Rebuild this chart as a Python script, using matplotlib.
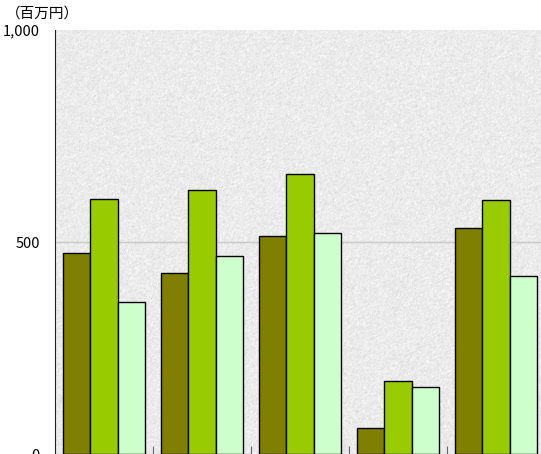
import numpy as np
import matplotlib.pyplot as plt

plt.rcParams['font.family'] = ['Noto Sans CJK JP', 'DejaVu Sans']

groups = ["A", "B", "C", "D", "E"]
series_1 = [473, 427, 514, 62, 534]
series_2 = [602, 623, 660, 171, 599]
series_3 = [359, 466, 521, 157, 420]
colors = ["#808000", "#99cc00", "#ccffcc"]

fig = plt.figure(figsize=(5.41, 4.54), dpi=100)
ax = fig.add_axes([55 / 541, 0.0, 490 / 541, 1 - 30 / 454])

# fine grainy grey backdrop for the plot area
rng = np.random.default_rng(7)
grain = rng.normal(0.0, 1.0, (420, 500))
grain = (grain + np.roll(grain, 1, 0) + np.roll(grain, 1, 1)) / 3
ax.imshow(0.92 + 0.03 * grain, cmap="gray", vmin=0, vmax=1,
          extent=(0, len(groups), 0, 1000), aspect="auto", zorder=0,
          interpolation="nearest")

x = np.arange(len(groups)) + 0.5
w = 0.28
for i, vals in enumerate([series_1, series_2, series_3]):
    ax.bar(x + (i - 1) * w, vals, width=w, color=colors[i],
           edgecolor="black", linewidth=1, zorder=3)

ax.axhline(500, color="#c8c8c8", linewidth=1, zorder=1)

ax.set_xlim(0, len(groups))
ax.set_ylim(0, 1000)
ax.set_yticks([0, 500, 1000])
ax.set_yticklabels(["0", "500", "1,000"], fontsize=10.5)
ax.set_xticks(np.arange(1, len(groups)))
ax.set_xticklabels([])
ax.tick_params(axis="x", direction="in", length=6, color="#666666")
ax.tick_params(axis="y", length=0, pad=11)

for s in ["top", "right", "bottom"]:
    ax.spines[s].set_visible(False)
ax.spines["left"].set_color("#222222")

fig.text(6 / 541, 1 - 14 / 454, "（百万円）", fontsize=10.5, va="center", ha="left")

fig.savefig("out.png", dpi=100)
